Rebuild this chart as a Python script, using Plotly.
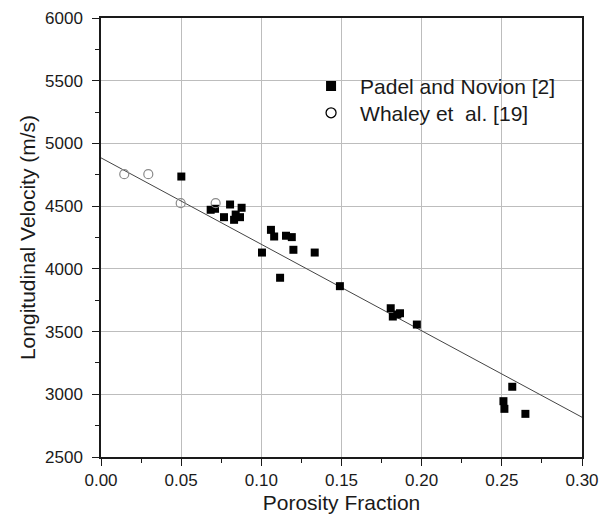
import plotly.graph_objects as go

# Padel and Novion [2]
padel_x = [0.0501, 0.0684, 0.0711, 0.0805, 0.0767, 0.0840, 0.0830, 0.0867, 0.0877,
           0.1004, 0.1060, 0.1080, 0.1154, 0.1190, 0.1200, 0.1333, 0.1117, 0.1490,
           0.1807, 0.1820, 0.1848, 0.1865, 0.1970, 0.2565, 0.2510, 0.2516, 0.2647]
padel_y = [4736, 4471, 4479, 4513, 4412, 4433, 4391, 4412, 4487,
           4130, 4311, 4258, 4264, 4253, 4152, 4130, 3929, 3862,
           3686, 3620, 3636, 3646, 3556, 3060, 2945, 2884, 2844]

# Whaley et al. [19]
whaley_x = [0.0145, 0.0295, 0.0497, 0.0715]
whaley_y = [4755, 4755, 4524, 4524]

# Linear fit
fit_x = [0.0, 0.30]
fit_y = [4885, 2817]

font_family = "Liberation Sans, Arial, sans-serif"
ink = "#1a1a1a"

fig = go.Figure()
fig.add_trace(go.Scatter(x=fit_x, y=fit_y, mode="lines",
                         line=dict(color="#444444", width=1), showlegend=False,
                         hoverinfo="skip"))
fig.add_trace(go.Scatter(x=padel_x, y=padel_y, mode="markers",
                         marker=dict(symbol="square", size=8, color="black",
                                     line=dict(width=0)),
                         showlegend=False))
fig.add_trace(go.Scatter(x=whaley_x, y=whaley_y, mode="markers",
                         marker=dict(symbol="circle-open", size=9, color="#8a8a8a",
                                     line=dict(width=1.2)),
                         showlegend=False))
# legend entries
fig.add_trace(go.Scatter(x=[None], y=[None], mode="markers", name="Padel and Novion [2]",
                         marker=dict(symbol="square", size=10, color="black"), legend="legend"))
fig.add_trace(go.Scatter(x=[None], y=[None], mode="markers", name="Whaley et  al. [19]",
                         marker=dict(symbol="circle-open", size=10, color="black",
                                     line=dict(width=1.3)), legend="legend2"))

axis_common = dict(
    showline=True, linecolor=ink, linewidth=1.5, mirror=True,
    showgrid=True, gridcolor="#bdbdbd", gridwidth=1,
    ticks="outside", ticklen=7, tickwidth=1.3, tickcolor=ink,
    zeroline=False, automargin=False,
    tickfont=dict(family=font_family, size=17, color=ink),
)

fig.update_xaxes(range=[0, 0.30], dtick=0.05, tickformat=".2f",
                 minor=dict(dtick=0.025, ticks="outside", ticklen=4, tickcolor=ink),
                 title=dict(text="Porosity Fraction", font=dict(family=font_family, size=21, color=ink), standoff=6),
                 **axis_common)
fig.update_yaxes(range=[2500, 6000], dtick=500, ticklabelstandoff=6,
                 minor=dict(dtick=250, ticks="outside", ticklen=4, tickcolor=ink),
                 title=dict(text="Longitudinal Velocity (m/s)", font=dict(family=font_family, size=21, color=ink), standoff=4),
                 **axis_common)

# white patch behind the legend text (gridlines stay visible around the symbols)
fig.add_shape(type="rect", xref="paper", yref="paper", x0=0.528, x1=0.954, y0=0.750, y1=0.873,
              fillcolor="white", line=dict(width=0), layer="between")

leg_common = dict(xanchor="left", yanchor="top", bgcolor="rgba(255,255,255,0)",
                  borderwidth=0, itemwidth=48,
                  font=dict(family=font_family, size=21, color=ink))

fig.update_layout(
    width=611, height=516,
    margin=dict(l=101, r=29, t=18, b=59, autoexpand=False),
    plot_bgcolor="white", paper_bgcolor="white",
    font=dict(family=font_family, color=ink),
    legend=dict(x=0.418, y=0.891, **leg_common),
    legend2=dict(x=0.418, y=0.830, **leg_common),
)

fig.write_html("out.html")
